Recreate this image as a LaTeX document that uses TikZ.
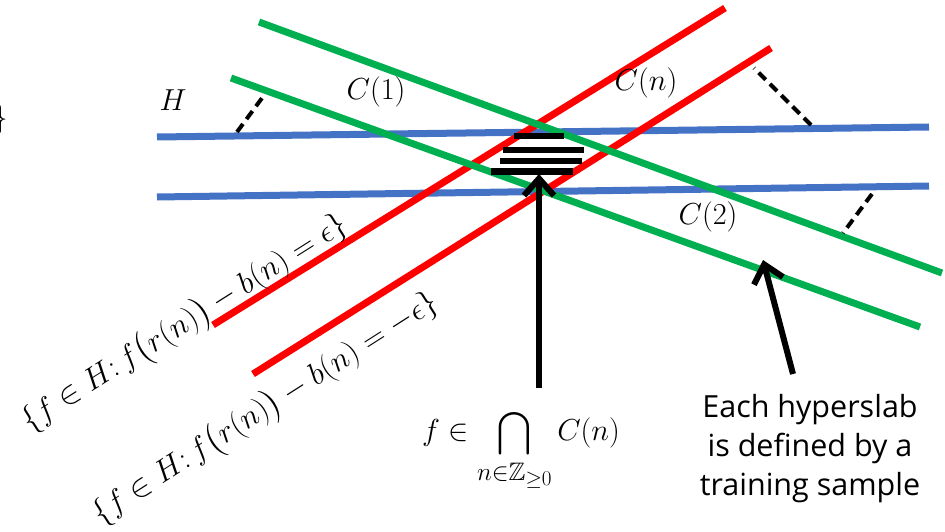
\documentclass[tikz,border=0pt]{standalone}
\usepackage{amsmath,amssymb}
\usepackage{fontspec}
\newfontfamily\labelsans{Open Sans}
\usetikzlibrary{arrows.meta}
\definecolor{slabblue}{HTML}{4472C4}
\definecolor{slabred}{HTML}{FF0000}
\definecolor{slabgreen}{HTML}{00B050}
\tikzset{
  blueline/.style={draw=slabblue,line width=7pt},
  redline/.style={draw=slabred,line width=7pt},
  greenline/.style={draw=slabgreen,line width=7pt},
  distline/.style={draw=black,line width=4pt,dash pattern=on 10pt off 6pt},
  barline/.style={fill=black},
  bigarrow/.style={draw=black,line width=6pt,-{Straight Barb[length=17pt,width=30pt,line width=6pt]}},
  mathlabel/.style={inner sep=0pt,font=\Huge},
}
\newcommand{\labscale}[1]{\scalebox{1.22}{#1}}
\newcommand{\setscale}[1]{\scalebox{1.27}{#1}}
\begin{document}
\begin{tikzpicture}[x=1pt,y=-1pt]
\useasboundingbox (0,0) rectangle (945,532);
\clip (0,0) rectangle (945,532);
% blue lines (hyperplane H boundaries)
\coordinate (b1s) at (157,137); \coordinate (b1e) at (929,127);
\coordinate (b2s) at (157,197); \coordinate (b2e) at (929,186);
\draw[blueline] (b1s) -- (b1e);
\draw[blueline] (b2s) -- (b2e);
% red lines
\coordinate (r1s) at (213,325); \coordinate (r1e) at (725,8);
\coordinate (r2s) at (253,374); \coordinate (r2e) at (771,48);
\draw[redline] (r1s) -- (r1e);
\draw[redline] (r2s) -- (r2e);
% green lines
\coordinate (g1s) at (259,22); \coordinate (g1e) at (942,273);
\coordinate (g2s) at (231,78); \coordinate (g2e) at (920,327);
\draw[greenline] (g1s) -- (g1e);
\draw[greenline] (g2s) -- (g2e);
% dashed distance markers
\coordinate (d1a) at (237,132); \coordinate (d1b) at (265,94);
\coordinate (d2a) at (754,68);  \coordinate (d2b) at (811,125);
\coordinate (d3a) at (872,194); \coordinate (d3b) at (843,233);
\draw[distline] (d1a) -- (d1b);
\draw[distline] (d2b) -- (d2a);
\draw[distline] (d3a) -- (d3b);
% stacked bars at intersection
\fill[barline] (514,133) rectangle (564,139);
\fill[barline] (503,147) rectangle (584,153);
\fill[barline] (500,158) rectangle (582,164);
\fill[barline] (491,168) rectangle (573,175);
% labels
\node[mathlabel] (hlab) at (173,100) {\labscale{$H$}};
\node[mathlabel] (c1) at (376,92) {\labscale{$C(1)$}};
\node[mathlabel] (cn) at (646,83) {\labscale{$C(n)$}};
\node[mathlabel] (c2) at (708,217) {\labscale{$C(2)$}};
\node[mathlabel,anchor=east] (brace) at (8,120) {\setscale{$\}$}};
\node[mathlabel,rotate=32.3] (set1) at (185,324)
  {\setscale{$\{f\in H{:}\,f\bigl(r(n)\bigr)-b(n)=\epsilon\}$}};
\node[mathlabel,rotate=32.6] (set2) at (266,409)
  {\setscale{$\{f\in H{:}\,f\bigl(r(n)\bigr)-b(n)=-\epsilon\}$}};
\node[mathlabel] (inter) at (521,450)
  {\labscale{$\displaystyle f\in\bigcap_{n\in\mathbb{Z}_{\geq 0}}C(n)$}};
\node[font=\labelsans\fontsize{30.5}{39}\selectfont,align=center,inner sep=0pt] (note) at (810,449)
  {Each hyperslab\\is defined by a\\training sample};
% arrows
\coordinate (a1t) at (539,388); \coordinate (a1h) at (539,174);
\coordinate (a2t) at (793,374); \coordinate (a2h) at (763,260);
\draw[bigarrow] (a1t) -- (a1h);
\draw[bigarrow] (a2t) -- (a2h);
\end{tikzpicture}
\end{document}
